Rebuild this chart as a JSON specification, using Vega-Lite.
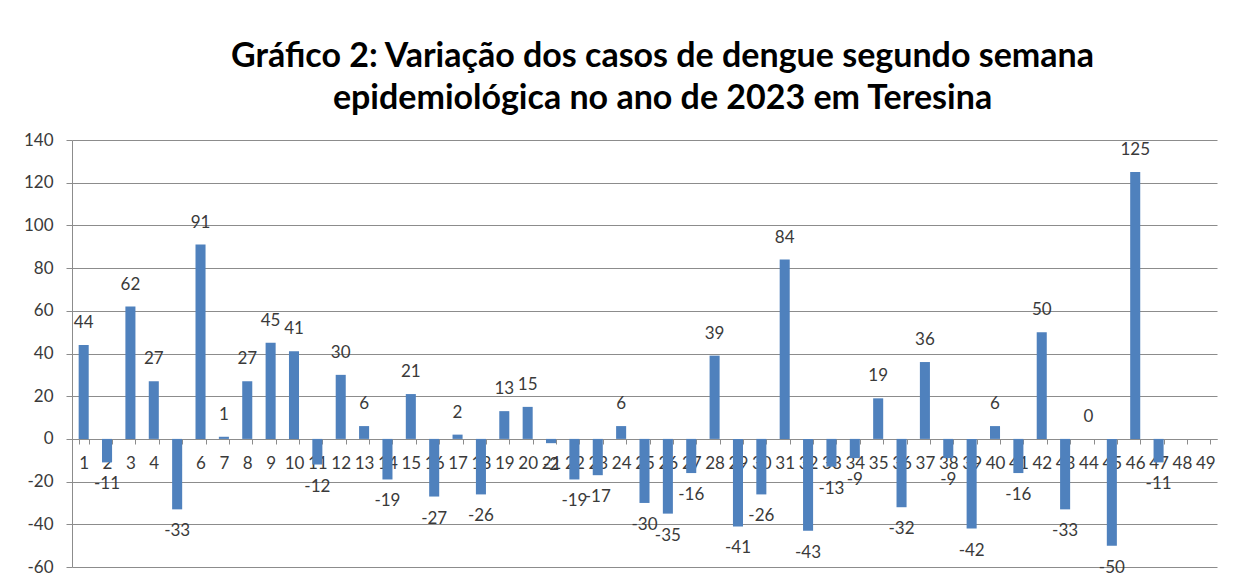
{
  "$schema": "https://vega.github.io/schema/vega-lite/v6.json",
  "width": 1145,
  "height": 427,
  "autosize": {"type": "none"},
  "padding": {"left": 72, "top": 140, "right": 19, "bottom": 15},
  "background": "white",
  "title": {
    "text": ["Gráfico 2: Variação dos casos de dengue segundo semana", "epidemiológica no ano de 2023 em Teresina"],
    "font": "Lato",
    "fontSize": 34,
    "fontWeight": "bold",
    "color": "#000000",
    "anchor": "middle",
    "lineHeight": 42,
    "dx": 18,
    "offset": 15
  },
  "data": {
    "values": [
      {"semana": 1, "variacao": 44}, {"semana": 2, "variacao": -11}, {"semana": 3, "variacao": 62},
      {"semana": 4, "variacao": 27}, {"semana": 5, "variacao": -33}, {"semana": 6, "variacao": 91},
      {"semana": 7, "variacao": 1}, {"semana": 8, "variacao": 27}, {"semana": 9, "variacao": 45},
      {"semana": 10, "variacao": 41}, {"semana": 11, "variacao": -12}, {"semana": 12, "variacao": 30},
      {"semana": 13, "variacao": 6}, {"semana": 14, "variacao": -19}, {"semana": 15, "variacao": 21},
      {"semana": 16, "variacao": -27}, {"semana": 17, "variacao": 2}, {"semana": 18, "variacao": -26},
      {"semana": 19, "variacao": 13}, {"semana": 20, "variacao": 15}, {"semana": 21, "variacao": -2},
      {"semana": 22, "variacao": -19}, {"semana": 23, "variacao": -17}, {"semana": 24, "variacao": 6},
      {"semana": 25, "variacao": -30}, {"semana": 26, "variacao": -35}, {"semana": 27, "variacao": -16},
      {"semana": 28, "variacao": 39}, {"semana": 29, "variacao": -41}, {"semana": 30, "variacao": -26},
      {"semana": 31, "variacao": 84}, {"semana": 32, "variacao": -43}, {"semana": 33, "variacao": -13},
      {"semana": 34, "variacao": -9}, {"semana": 35, "variacao": 19}, {"semana": 36, "variacao": -32},
      {"semana": 37, "variacao": 36}, {"semana": 38, "variacao": -9}, {"semana": 39, "variacao": -42},
      {"semana": 40, "variacao": 6}, {"semana": 41, "variacao": -16}, {"semana": 42, "variacao": 50},
      {"semana": 43, "variacao": -33}, {"semana": 44, "variacao": 0}, {"semana": 45, "variacao": -50},
      {"semana": 46, "variacao": 125}, {"semana": 47, "variacao": -11}, {"semana": 48, "variacao": null},
      {"semana": 49, "variacao": null}
    ]
  },
  "encoding": {
    "x": {
      "field": "semana",
      "type": "ordinal",
      "sort": null,
      "scale": {
        "domain": [1,2,3,4,5,6,7,8,9,10,11,12,13,14,15,16,17,18,19,20,21,22,23,24,25,26,27,28,29,30,31,32,33,34,35,36,37,38,39,40,41,42,43,44,45,46,47,48,49],
        "paddingInner": 0.57,
        "paddingOuter": 0.285
      },
      "axis": {
        "title": null,
        "orient": "bottom",
        "offset": -128,
        "labelAngle": 0,
        "labelFont": "Lato",
        "labelFontSize": 17,
        "labelColor": "#3a3a3a",
        "labelPadding": 11,
        "tickBand": "extent",
        "tickSize": 5,
        "tickColor": "#8c8c8c",
        "domainColor": "#8c8c8c",
        "labelOverlap": false,
        "labelBound": false,
        "labelFlush": false
      }
    },
    "y": {
      "field": "variacao",
      "type": "quantitative",
      "scale": {"domain": [-60, 140], "nice": false, "zero": false},
      "axis": {
        "title": null,
        "values": [-60, -40, -20, 0, 20, 40, 60, 80, 100, 120, 140],
        "labelExpr": "'' + datum.value",
        "labelFont": "Lato",
        "labelFontSize": 17,
        "labelColor": "#3a3a3a",
        "labelPadding": 13,
        "tickSize": 6,
        "tickColor": "#8c8c8c",
        "domainColor": "#8c8c8c",
        "gridColor": "#8c8c8c",
        "gridWidth": 1.2,
        "grid": true
      }
    }
  },
  "layer": [
    {
      "mark": {"type": "bar", "color": "#4f81bd"}
    },
    {
      "transform": [{"filter": "datum.variacao != null && datum.variacao >= 0"}],
      "mark": {"type": "text", "dy": -22, "baseline": "middle", "font": "Lato", "fontSize": 17, "color": "#3a3a3a"},
      "encoding": {"text": {"field": "variacao", "type": "nominal"}}
    },
    {
      "transform": [{"filter": "datum.variacao != null && datum.variacao < 0"}],
      "mark": {"type": "text", "dy": 22, "baseline": "middle", "font": "Lato", "fontSize": 17, "color": "#3a3a3a"},
      "encoding": {"text": {"field": "variacao", "type": "nominal"}}
    }
  ],
  "config": {"view": {"stroke": null}}
}
